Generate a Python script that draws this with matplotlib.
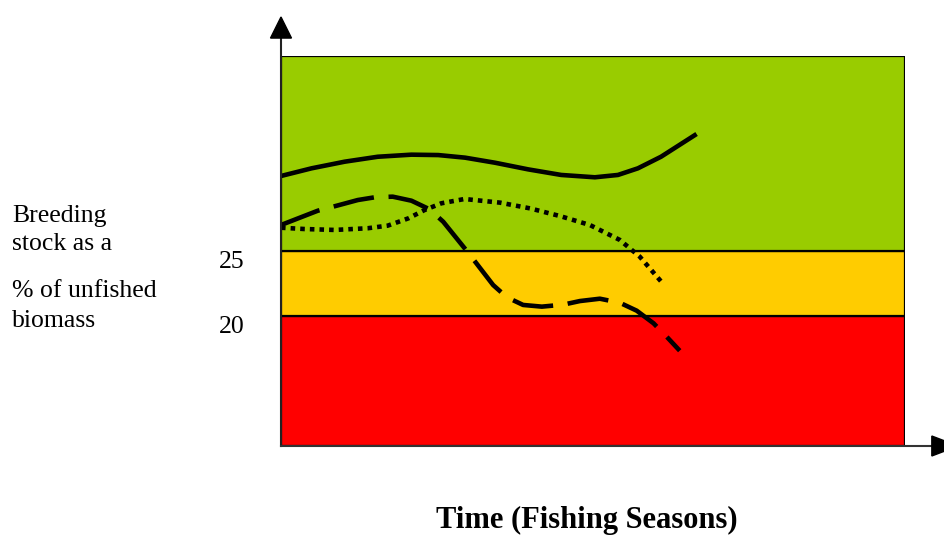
import matplotlib
matplotlib.use("Agg")
import matplotlib.pyplot as plt
from matplotlib.patches import Polygon

# Band limits (% of unfished biomass)
y_min, y_limit, y_target, y_max = 10, 20, 25, 40
x_max = 10
band_colors = ["#FF0000", "#FFCC00", "#99CC00"]

ytick_vals = [20, 25]
ytick_labels = ["20", "25"]

ylabel_lines = ["Breeding", "stock as a", "% of unfished", "biomass"]
xlabel = "Time (Fishing Seasons)"

# Solid trajectory
solid_x = [0, 0.49, 1.02, 1.55, 2.09, 2.52, 2.95, 3.43, 3.96, 4.49, 5.03, 5.40, 5.72, 6.09, 6.66]
solid_y = [30.77, 31.36, 31.87, 32.25, 32.41, 32.38, 32.18, 31.79, 31.28, 30.85, 30.67, 30.85,
           31.36, 32.25, 34.00]

# Dashed trajectory
dashed_x = [0, 0.59, 0.89, 1.23, 1.50, 1.79, 2.09, 2.38, 2.60, 3.00, 3.18, 3.40, 3.62, 3.88, 4.18,
            4.52, 4.79, 5.11, 5.43, 5.70, 5.97, 6.18, 6.39]
dashed_y = [27.00, 28.10, 28.48, 28.92, 29.13, 29.18, 28.87, 28.21, 27.25, 24.87, 23.75, 22.38, 21.44,
            20.85, 20.72, 20.87, 21.15, 21.33, 21.02, 20.41, 19.44, 18.41, 17.33]

# Dotted trajectory
dotted_x = [0, 0.38, 0.86, 1.39, 1.71, 2.04, 2.30, 2.57, 2.94, 3.51, 3.99, 4.47, 4.95, 5.43, 5.75, 6.13]
dotted_y = [26.79, 26.69, 26.62, 26.75, 26.95, 27.51, 28.15, 28.67, 29.00, 28.72, 28.28, 27.69, 27.00,
            25.85, 24.56, 22.44]

fig = plt.figure(figsize=(9.45, 5.36), dpi=100)
ax = fig.add_axes([281 / 945, 90 / 536, 624 / 945, 390 / 536])

bounds = [y_min, y_limit, y_target, y_max]
for i, c in enumerate(band_colors):
    ax.axhspan(bounds[i], bounds[i + 1], xmin=0, xmax=1, facecolor=c,
               edgecolor="black", linewidth=1.6, zorder=1)

lw = 3.3
ax.plot(solid_x, solid_y, color="black", lw=lw, solid_capstyle="butt",
        solid_joinstyle="round", zorder=3)
ax.plot(dashed_x, dashed_y, color="black", lw=lw, dashes=(9, 3.2),
        dash_capstyle="butt", dash_joinstyle="round", zorder=3)
ax.plot(dotted_x, dotted_y, color="black", lw=lw, dashes=(1, 1.1),
        dash_capstyle="butt", zorder=3)

ax.set_xlim(0, x_max)
ax.set_ylim(y_min, y_max)
for s in ax.spines.values():
    s.set_visible(False)
ax.set_xticks([])
ax.set_yticks(ytick_vals)
ax.set_yticklabels(ytick_labels, family="Liberation Serif", fontsize=18.5, va="top")
ax.tick_params(axis="y", length=0, pad=26)

# Axis lines with arrows
ax.plot([0, 0], [0, 1.046], transform=ax.transAxes, color="#222222", lw=1.5,
        clip_on=False, zorder=4)
ax.add_patch(Polygon([(-0.0168, 1.046), (0.0168, 1.046), (0, 1.1)], closed=True,
                     transform=ax.transAxes, color="black", clip_on=False, zorder=4))
ax.plot([0, 1.045], [0, 0], transform=ax.transAxes, color="#333333", lw=1.5,
        clip_on=False, zorder=4)
ax.add_patch(Polygon([(1.043, -0.0256), (1.043, 0.0256), (1.085, 0)], closed=True,
                     transform=ax.transAxes, color="black", clip_on=False, zorder=4))

# Y label lines
baselines = [221.7, 250, 296.7, 326.7]
for txt, b in zip(ylabel_lines, baselines):
    fig.text(12 / 945, 1 - b / 536, txt, family="Liberation Serif", fontsize=18.5,
             ha="left", va="baseline")

fig.text(587 / 945, 1 - 528 / 536, xlabel, family="Liberation Serif", fontsize=22,
         fontweight="bold", ha="center", va="baseline")

fig.savefig("out.png", dpi=100)
